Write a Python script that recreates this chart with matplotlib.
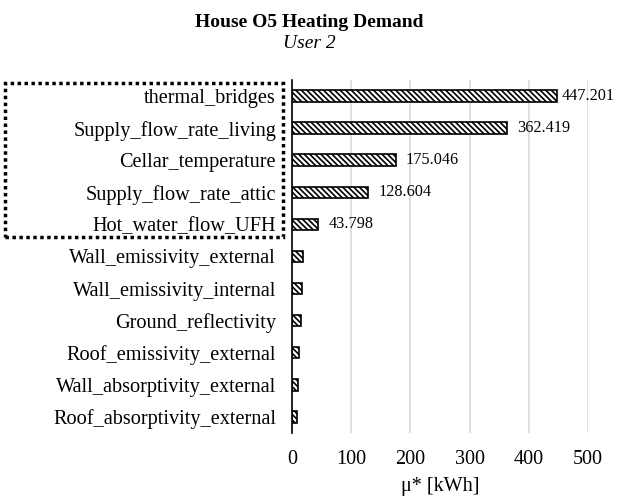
import matplotlib
matplotlib.use("Agg")
import matplotlib.pyplot as plt
from matplotlib.patches import Rectangle

plt.rcParams['font.family'] = ['Liberation Serif', 'DejaVu Serif']
plt.rcParams['hatch.linewidth'] = 1.2

# parameters, top to bottom
params = ['thermal_bridges', 'Supply_flow_rate_living', 'Cellar_temperature',
          'Supply_flow_rate_attic', 'Hot_water_flow_UFH', 'Wall_emissivity_external',
          'Wall_emissivity_internal', 'Ground_reflectivity', 'Roof_emissivity_external',
          'Wall_absorptivity_external', 'Roof_absorptivity_external']
mu_star = [447.201, 362.419, 175.046, 128.604, 43.798, 18.5, 16.2, 15.5, 11.0, 10.6, 8.0]
labelled = 5  # only the top five have value labels
xticks = [0, 100, 200, 300, 400, 500]

fig = plt.figure(figsize=(6.18, 4.97), dpi=100)
ax = fig.add_axes([0.4725, 0.129, 0.479, 0.71])

y = list(range(len(params)))
bars = ax.barh(y, mu_star, height=0.36, color='white', edgecolor='black',
               hatch='\\\\\\\\\\\\', linewidth=1.2, zorder=3)
for i in range(labelled):
    # label near the right edge gets pulled in closer to its bar
    off = 3.5 if mu_star[i] > 420 else 7.5
    ax.annotate(f'{mu_star[i]:.3f}', (mu_star[i], y[i]), xytext=(off, 0),
                textcoords='offset points', va='center', ha='left',
                fontsize=11.7, annotation_clip=False)

ax.set_ylim(len(params) - 0.5, -0.5)
ax.set_xlim(0, 500)
ax.set_xticks(xticks)
ax.set_yticks(y)
ax.set_yticklabels(params, fontsize=14.6)
ax.tick_params(axis='x', labelsize=14.5, length=0, pad=12)
ax.tick_params(axis='y', length=0, pad=11.5)
ax.grid(axis='x', color='#d9d9d9', linewidth=1.2, zorder=0)
for s in ['top', 'right', 'bottom']:
    ax.spines[s].set_visible(False)
ax.spines['left'].set_color('black')
ax.spines['left'].set_linewidth(1.2)
ax.spines['left'].set_zorder(4)
ax.set_xlabel('μ* [kWh]', fontsize=14.5, labelpad=6)

fig.text(0.5, 0.955, 'House O5 Heating Demand', ha='center', va='center',
         fontsize=14, fontweight='bold')
fig.text(0.5, 0.912, 'User 2', ha='center', va='center', fontsize=14, style='italic')

# dotted box around the five most influential parameters
box = Rectangle((5 / 618, 1 - 237 / 497), 278 / 618, 154 / 497, transform=fig.transFigure,
                fill=False, edgecolor='black', linestyle=(0, (1, 1)), linewidth=2.5)
fig.add_artist(box)

fig.savefig('out.png', dpi=100)
